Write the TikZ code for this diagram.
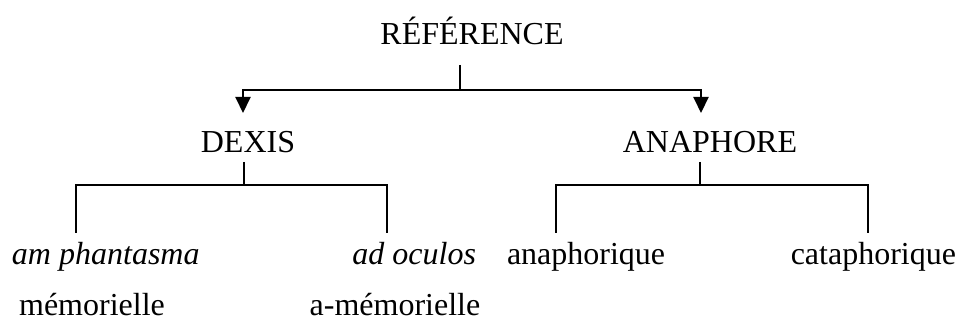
\documentclass[tikz,border=0pt]{standalone}
\usepackage{fontspec}
\setmainfont{Liberation Serif}
\usetikzlibrary{arrows.meta}
\begin{document}
\begin{tikzpicture}[x=1pt,y=-1pt,
  lbl/.style={inner sep=0pt,outer sep=0pt,font=\fontsize{32}{36}\selectfont},
  conn/.style={line width=2pt},
  arr/.style={conn,-{Triangle[width=15pt,length=16pt]}}]
\useasboundingbox (0,0) rectangle (960,320);
% nodes
\node[lbl,anchor=base] (ref) at (472,45) {RÉFÉRENCE};
\node[lbl,anchor=base] (dexis) at (248,153) {DEXIS};
\node[lbl,anchor=base] (anaphore) at (710,153) {ANAPHORE};
\node[lbl,anchor=base west] (amph) at (12,265) {\itshape am phantasma};
\node[lbl,anchor=base east] (adoc) at (476,265) {\itshape ad oculos};
\node[lbl,anchor=base west] (anaph) at (507,265) {anaphorique};
\node[lbl,anchor=base east] (cataph) at (956,265) {cataphorique};
\node[lbl,anchor=base] (mem) at (92,315) {mémorielle};
\node[lbl,anchor=base] (amem) at (395,315) {a-mémorielle};
% junction coordinates
\coordinate (rtop) at (460,65);
\coordinate (rj) at (460,90);
\coordinate (dtip) at (243,113);
\coordinate (atip) at (701,113);
\coordinate (dtop) at (244,162);
\coordinate (dj) at (244,185);
\coordinate (dl) at (76,233);
\coordinate (dr) at (387,233);
\coordinate (atop) at (700,162);
\coordinate (aj) at (700,185);
\coordinate (al) at (556,233);
\coordinate (ar) at (868,233);
% connectors
\draw[conn] (rtop) -- (rj);
\draw[arr] (rj) -| (dtip);
\draw[arr] (rj) -| (atip);
\draw[conn] (dtop) -- (dj);
\draw[conn] (dl) |- (dj) -| (dr);
\draw[conn] (atop) -- (aj);
\draw[conn] (al) |- (aj) -| (ar);
\end{tikzpicture}
\end{document}
